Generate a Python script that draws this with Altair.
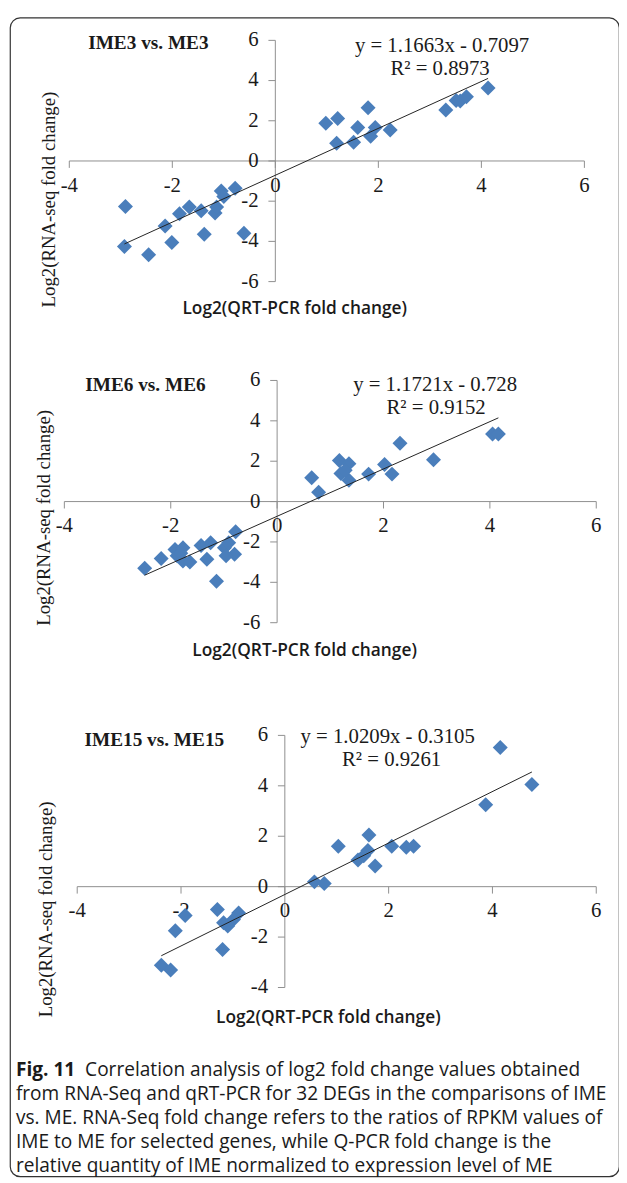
import altair as alt
import pandas as pd

# ---------------- data ----------------
titles = ["IME3 vs. ME3", "IME6 vs. ME6", "IME15 vs. ME15"]
slopes = [1.1663, 1.1721, 1.0209]
intercepts = [-0.7097, -0.728, -0.3105]
eq_labels = ["y = 1.1663x - 0.7097", "y = 1.1721x - 0.728", "y = 1.0209x - 0.3105"]
r2_labels = ["R\u00b2 = 0.8973", "R\u00b2 = 0.9152", "R\u00b2 = 0.9261"]

x_ticks = [-4, -2, 0, 2, 4, 6]
y_ticks_a = [-6, -4, -2, 0, 2, 4, 6]
y_ticks_b = [-4, -2, 0, 2, 4, 6]

# IME3 vs. ME3
p1_qpcr = [0.98, 1.21, 1.19, 1.52, 1.60, 1.80, 1.85, 1.94, 2.23, 3.31, 3.51, 3.59, 3.71, 4.13,
           -2.91, -2.93, -2.46, -2.14, -2.01, -1.86, -1.67, -1.44, -1.38, -1.17, -1.14, -1.05,
           -1.00, -0.78, -0.61]
p1_rnaseq = [1.88, 2.11, 0.88, 0.93, 1.67, 2.65, 1.23, 1.67, 1.54, 2.54, 3.01, 2.98, 3.19, 3.63,
             -2.27, -4.26, -4.66, -3.24, -4.06, -2.62, -2.29, -2.47, -3.65, -2.59, -2.29, -1.49,
             -1.77, -1.36, -3.60]

# IME6 vs. ME6
p2_qpcr = [0.65, 0.78, 1.17, 1.20, 1.35, 1.35, 1.28, 1.72, 2.02, 2.16, 2.31, 2.94, 4.05, 4.16,
           -2.49, -2.18, -1.92, -1.88, -1.81, -1.77, -1.64, -1.43, -1.32, -1.25, -1.14, -0.99,
           -0.91, -0.80, -0.78, -0.96, -1.77]
p2_rnaseq = [1.18, 0.46, 2.04, 1.39, 1.88, 1.06, 1.55, 1.36, 1.84, 1.36, 2.89, 2.07, 3.35, 3.35,
             -3.30, -2.82, -2.37, -2.69, -2.56, -2.94, -2.99, -2.17, -2.86, -2.04, -3.95, -2.29,
             -2.04, -2.61, -1.50, -2.69, -2.29]

# IME15 vs. ME15
p3_qpcr = [4.15, 4.76, 3.87, 2.06, 2.34, 2.48, 1.62, 1.60, 1.41, 1.52, 1.74, 1.03, 0.57, 0.76,
           -1.30, -0.89, -0.99, -1.10, -1.92, -2.11, -1.20, -2.38, -2.20, -1.18]
p3_rnaseq = [5.52, 4.05, 3.25, 1.60, 1.56, 1.60, 2.05, 1.43, 1.06, 1.23, 0.82, 1.60, 0.19, 0.13,
             -0.91, -1.04, -1.30, -1.56, -1.14, -1.75, -2.49, -3.12, -3.31, -1.43]

x_title = "Log2(QRT-PCR fold change)"
y_title = "Log2(RNA-seq fold change)"

caption_bold = "Fig. 11"
caption_lines = [
    "Correlation analysis of log2 fold change values obtained",
    "from RNA-Seq and qRT-PCR for 32 DEGs in the comparisons of IME",
    "vs. ME. RNA-Seq fold change refers to the ratios of RPKM values of",
    "IME to ME for selected genes, while Q-PCR fold change is the",
    "relative quantity of IME normalized to expression level of ME",
]

# ---------------- layout (pixels inside the framed view) ----------------
layout = [
    dict(xr=[60, 581], yr=[267, 23], ydom=[-6, 6], yt=y_ticks_a,
         title=(140, 26), eq=(437, 29), r2=(435, 52), ytitle=(40, 184), xtitle=(288, 295)),
    dict(xr=[55, 593], yr=[612, 367], ydom=[-6, 6], yt=y_ticks_a,
         title=(137, 372), eq=(430, 372), r2=(431, 395), ytitle=(34, 506), xtitle=(298, 641)),
    dict(xr=[68, 593], yr=[981, 726], ydom=[-4, 6], yt=y_ticks_b,
         title=(146, 731), eq=(382, 728), r2=(386, 751), ytitle=(36, 902), xtitle=(322, 1012)),
]

SERIF = "Liberation Serif"
SANS = "Open Sans"
AXC = "#8f8f8f"
TXT = "#1a1a1a"
PT = "#4a7ebb"


def text_at(s, pos, **kw):
    return alt.Chart(pd.DataFrame({"t": [s]})).mark_text(color=TXT, **kw).encode(
        x=alt.value(pos[0]), y=alt.value(pos[1]), text="t:N")


def panel(i, qx, ry):
    L = layout[i]
    xsc = alt.Scale(domain=[-4, 6], range=L["xr"], nice=False, zero=False)
    ysc = alt.Scale(domain=L["ydom"], range=L["yr"], nice=False, zero=False)

    def X(f="x"):
        return alt.X(f"{f}:Q", scale=xsc, axis=None)

    def Y(f="y"):
        return alt.Y(f"{f}:Q", scale=ysc, axis=None)

    pts = pd.DataFrame({"x": qx, "y": ry})

    xaxis = alt.Chart(pd.DataFrame({"x": [-4], "x2": [6], "y": [0]})).mark_rule(
        color=AXC, strokeWidth=1).encode(x=X(), x2="x2:Q", y=Y())
    yaxis = alt.Chart(pd.DataFrame({"x": [0], "y": [L["ydom"][0]], "y2": [L["ydom"][1]]})).mark_rule(
        color=AXC, strokeWidth=1).encode(x=X(), y=Y(), y2="y2:Q")

    xt_df = pd.DataFrame({"x": x_ticks, "y": [0] * len(x_ticks), "y2": [0] * len(x_ticks),
                          "label": [str(t) for t in x_ticks]})
    yt_df = pd.DataFrame({"x": [0] * len(L["yt"]), "x2": [0] * len(L["yt"]), "y": L["yt"],
                          "label": [str(t) for t in L["yt"]]})
    xticks = alt.Chart(xt_df).mark_rule(color=AXC, strokeWidth=1, y2Offset=7).encode(
        x=X(), y=Y(), y2="y2:Q")
    yticks = alt.Chart(yt_df).mark_rule(color=AXC, strokeWidth=1, x2Offset=-7).encode(
        x=X(), x2="x2:Q", y=Y())
    xlabels = alt.Chart(xt_df).mark_text(font=SERIF, fontSize=21, color=TXT, dy=25,
                                         baseline="middle").encode(x=X(), y=Y(), text="label:N")
    ylabels = alt.Chart(yt_df).mark_text(font=SERIF, fontSize=21, color=TXT, dx=-17, align="right",
                                         baseline="middle").encode(x=X(), y=Y(), text="label:N")

    points = alt.Chart(pts).mark_point(shape="diamond", filled=True, size=230, color=PT,
                                       opacity=1).encode(x=X(), y=Y())

    a, b = slopes[i], intercepts[i]
    trend = alt.Chart(pts).transform_aggregate(lo="min(x)", hi="max(x)").transform_fold(
        ["lo", "hi"], as_=["end", "x"]).transform_calculate(
        y=f"{a} * datum.x + ({b})").mark_line(color="#222222", strokeWidth=1).encode(x=X(), y=Y())

    t_title = text_at(titles[i], L["title"], font=SERIF, fontSize=19.5, fontWeight="bold",
                      baseline="middle")
    t_eq = text_at(eq_labels[i], L["eq"], font=SERIF, fontSize=21, baseline="middle")
    t_r2 = text_at(r2_labels[i], L["r2"], font=SERIF, fontSize=21, baseline="middle")
    t_y = text_at(y_title, L["ytitle"], font=SERIF, fontSize=19, angle=270, baseline="middle")
    t_x = text_at(x_title, L["xtitle"], font=SANS, fontSize=17.5, fontWeight=600,
                  baseline="middle")

    return alt.layer(xaxis, yaxis, xticks, yticks, xlabels, ylabels, points, trend,
                     t_title, t_eq, t_r2, t_y, t_x)


p1 = panel(0, p1_qpcr, p1_rnaseq)
p2 = panel(1, p2_qpcr, p2_rnaseq)
p3 = panel(2, p3_qpcr, p3_rnaseq)

cap_df = pd.DataFrame({"i": list(range(len(caption_lines))), "text": caption_lines})
cap_y = alt.Scale(domain=[0, 4], range=[1064, 1162], nice=False, zero=False)
CAP = dict(font=SANS, fontSize=19.3, color=TXT, align="left", baseline="middle")
cap_bold = alt.Chart(pd.DataFrame({"i": [0], "text": [caption_bold]})).mark_text(
    fontWeight="bold", **CAP).encode(x=alt.value(6), y=alt.Y("i:Q", scale=cap_y, axis=None),
                                     text="text:N")
cap_first = alt.Chart(cap_df).transform_filter("datum.i == 0").mark_text(dx=70, **CAP).encode(
    x=alt.value(6), y=alt.Y("i:Q", scale=cap_y, axis=None), text="text:N")
cap_rest = alt.Chart(cap_df).transform_filter("datum.i > 0").mark_text(**CAP).encode(
    x=alt.value(6), y=alt.Y("i:Q", scale=cap_y, axis=None), text="text:N")
caption = alt.layer(cap_bold, cap_first, cap_rest)

chart = alt.layer(p1, p2, p3, caption).resolve_scale(
    x="independent", y="independent").properties(
    width=616, height=1172,
    padding={"left": 2, "top": 3, "right": 0, "bottom": 0},
    autosize="none",
    background="white",
).configure_view(stroke="#333333", strokeWidth=1.2, cornerRadius=10)

chart.save("out.html", embed_options={"renderer": "svg", "actions": False})
